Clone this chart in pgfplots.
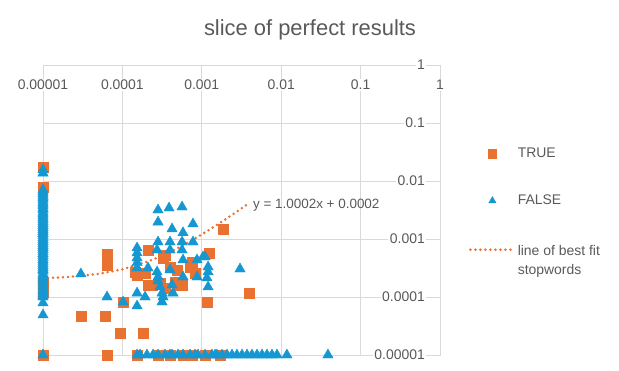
\documentclass[border=0pt]{standalone}
\usepackage{pgfplots}
\pgfplotsset{compat=1.18}
\usepackage{fontspec}
\setmainfont{Liberation Sans}
\definecolor{tor}{RGB}{233,113,50}
\definecolor{fbl}{RGB}{21,152,210}
\definecolor{txt}{RGB}{89,89,89}
\definecolor{grd}{RGB}{217,217,217}
\begin{document}
\begin{tikzpicture}[x=1bp,y=1bp]
\useasboundingbox (0,0) rectangle (619,370);
\node[font=\fontsize{22}{26}\selectfont, text=txt] at (310,340) {slice of perfect results};
\begin{axis}[at={(43bp,15bp)}, anchor=south west, scale only axis, width=397bp, height=290bp,
 xmode=log, ymode=log, xmin=1e-5, xmax=1, ymin=1e-5, ymax=1,
 xtick={1e-5,1e-4,1e-3,1e-2,1e-1,1}, xticklabels={0.00001,0.0001,0.001,0.01,0.1,1},
 ytick={1e-5,1e-4,1e-3,1e-2,1e-1,1}, yticklabels={0.00001,0.0001,0.001,0.01,0.1,1},
 /pgf/number format/assume math mode=true,
 tick style={draw=none}, minor tick length=0pt, major tick length=0pt,
 grid=major, major grid style={grd, line width=0.75bp},
 axis line style={grd, line width=0.75bp},
 xticklabel pos=upper, yticklabel pos=upper,
 xticklabel style={anchor=center, yshift=-20bp, fill=white, inner sep=1bp, font=\fontsize{14}{16}\selectfont, text=txt},
 yticklabel style={anchor=east, xshift=-13.5bp, fill=white, inner sep=1.5bp, font=\fontsize{14}{16}\selectfont, text=txt},
 clip=false,
 legend style={draw=none, fill=none, at={(axis description cs:1.065,0.728)}, anchor=north west,
   font=\fontsize{14}{19}\selectfont, text=txt, row sep=32bp, legend cell align=left,
   /tikz/every even column/.append style={column sep=7bp}},
 legend image code/.code={\draw[mark repeat=2,mark phase=2,#1] plot coordinates {(0bp,0bp) (22bp,0bp) (44bp,0bp)};},
 legend image post style={mark size=4.2bp},
]
\addplot[only marks, mark=square*, mark size=5bp, color=tor] coordinates {
(1e-5,0.0174) (1e-5,0.0079) (1e-5,0.000174) (1e-5,0.000122) (1e-5,1e-5)
(3.0e-5,4.7e-5) (6.1e-5,4.7e-5) (6.4e-5,0.00055) (6.4e-5,0.000356) (6.4e-5,1e-5)
(9.3e-5,2.4e-5) (1.82e-4,2.4e-5) (1.02e-4,8.2e-5)
(2.10e-4,0.000646) (1.53e-4,0.00024) (1.44e-4,0.00027) (1.93e-4,0.000259)
(2.10e-4,0.000161) (2.36e-4,0.000161) (2.98e-4,0.000174) (3.44e-4,0.000143)
(3.25e-4,0.00047) (3.44e-4,0.00053) (3.98e-4,0.000329) (4.87e-4,0.000292)
(4.60e-4,0.000181) (5.01e-4,0.000161) (7.53e-4,0.000401) (7.10e-4,0.000329)
(8.21e-4,0.000259) (5.64e-4,0.000161) (1.23e-3,0.000574) (1.85e-3,0.00149)
(1.16e-3,8.2e-5) (3.95e-3,0.000117)
(1.53e-4,1e-5) (2.81e-4,1e-5) (3.98e-4,1e-5) (5.80e-4,1e-5) (7.53e-4,1e-5) (1.10e-3,1e-5) (1.69e-3,1e-5)
};
\addlegendentry{TRUE}
\addplot[only marks, mark=triangle*, mark size=6bp, color=fbl] coordinates {
(1e-5,0.0155) (1e-5,0.0137) (1e-5,0.0070) (1e-5,0.0065) (1e-5,0.0060) (1e-5,0.0055) (1e-5,0.0051)
(1e-5,0.0047) (1e-5,0.0043) (1e-5,0.0040) (1e-5,0.0037) (1e-5,0.0034) (1e-5,0.0032) (1e-5,0.0029)
(1e-5,0.0027) (1e-5,0.0025) (1e-5,0.0023) (1e-5,0.00215) (1e-5,0.0020) (1e-5,0.00185) (1e-5,0.0017)
(1e-5,0.00157) (1e-5,0.00145) (1e-5,0.00134) (1e-5,0.00124) (1e-5,0.00115) (1e-5,0.00106)
(1e-5,0.00098) (1e-5,0.0009) (1e-5,0.00083) (1e-5,0.00077) (1e-5,0.00071) (1e-5,0.00066)
(1e-5,0.00061) (1e-5,0.00056) (1e-5,0.00052) (1e-5,0.00048) (1e-5,0.00044) (1e-5,0.00041)
(1e-5,0.00038) (1e-5,0.00035) (1e-5,0.000325) (1e-5,0.0003) (1e-5,0.00028) (1e-5,0.00025)
(1e-5,0.000235) (1e-5,0.00022) (1e-5,0.000205) (1e-5,0.00019) (1e-5,0.000175) (1e-5,0.00016)
(1e-5,0.000148) (1e-5,0.000135) (1e-5,0.000125) (1e-5,0.000115) (1e-5,0.000107) (1e-5,0.0001)
(1e-5,7.9e-5) (1e-5,4.9e-5) (1e-5,1e-5)
(3.0e-5,0.00025) (6.4e-5,0.0001) (1.02e-4,8.2e-5)
(1.53e-4,0.00070) (1.53e-4,0.000574) (1.53e-4,0.00047) (1.53e-4,0.00039) (1.53e-4,0.000316)
(1.53e-4,0.000117) (1.53e-4,7.0e-5) (1.93e-4,0.0001)
(2.81e-4,0.00316) (3.87e-4,0.00342) (5.64e-4,0.00356) (2.81e-4,0.00196) (4.22e-4,0.00149)
(5.80e-4,0.00128) (7.75e-4,0.00182)
(2.81e-4,0.000887) (3.98e-4,0.000887) (5.64e-4,0.000887) (7.75e-4,0.000887)
(2.73e-4,0.000646) (3.98e-4,0.000646) (5.64e-4,0.000646)
(2.10e-4,0.000316) (2.73e-4,0.00027) (3.98e-4,0.000292) (5.80e-4,0.000435) (8.71e-4,0.000435)
(1.10e-3,0.00049) (1.20e-3,0.000329) (1.20e-3,0.00027) (8.71e-4,0.000221) (1.16e-3,0.000213)
(1.20e-3,0.000149) (5.80e-4,0.000221) (2.81e-4,0.000221) (2.81e-4,0.000189) (2.98e-4,0.000149)
(4.22e-4,0.000161) (4.34e-4,0.000117) (3.16e-4,0.000117) (3.16e-4,8.2e-5) (3.25e-4,0.0001)
(3.03e-3,0.000304) (1.035e-3,0.00049)
(1.53e-4,1e-5) (1.67e-4,1e-5) (2.04e-4,1e-5) (2.43e-4,1e-5) (2.81e-4,1e-5) (3.44e-4,1e-5)
(3.98e-4,1e-5) (4.22e-4,1e-5) (5.01e-4,1e-5) (5.80e-4,1e-5) (7.10e-4,1e-5) (8.21e-4,1e-5)
(8.96e-4,1e-5) (1.10e-3,1e-5) (1.34e-3,1e-5) (1.47e-3,1e-5) (1.55e-3,1e-5) (1.80e-3,1e-5)
(2.08e-3,1e-5) (2.40e-3,1e-5) (2.77e-3,1e-5) (3.21e-3,1e-5) (3.71e-3,1e-5) (4.28e-3,1e-5)
(4.96e-3,1e-5) (5.73e-3,1e-5) (6.62e-3,1e-5) (7.65e-3,1e-5) (8.85e-3,1e-5) (1.18e-2,1e-5)
(3.88e-2,1e-5)
};
\addlegendentry{FALSE}
\addplot[no marks, color=tor, line width=2.8bp, line cap=round, dash pattern=on 0bp off 5bp] coordinates {
(1e-5,0.00021) (2e-5,0.00022) (5e-5,0.00025) (1e-4,0.0003) (2e-4,0.0004) (3e-4,0.0005)
(5e-4,0.0007) (7e-4,0.0009) (1e-3,0.0012) (1.5e-3,0.0017) (2e-3,0.0022) (2.5e-3,0.0027)
(3e-3,0.0032) (3.8e-3,0.004)
};
\addlegendentry{\begin{tabular}[t]{@{}l@{}}line of best fit\\stopwords\end{tabular}}
\node[anchor=west, text=txt, font=\fontsize{13.5}{16}\selectfont, inner sep=0pt] at (axis cs:4.4e-3,3.85e-3) {y = 1.0002x + 0.0002};
\end{axis}
\end{tikzpicture}
\end{document}
